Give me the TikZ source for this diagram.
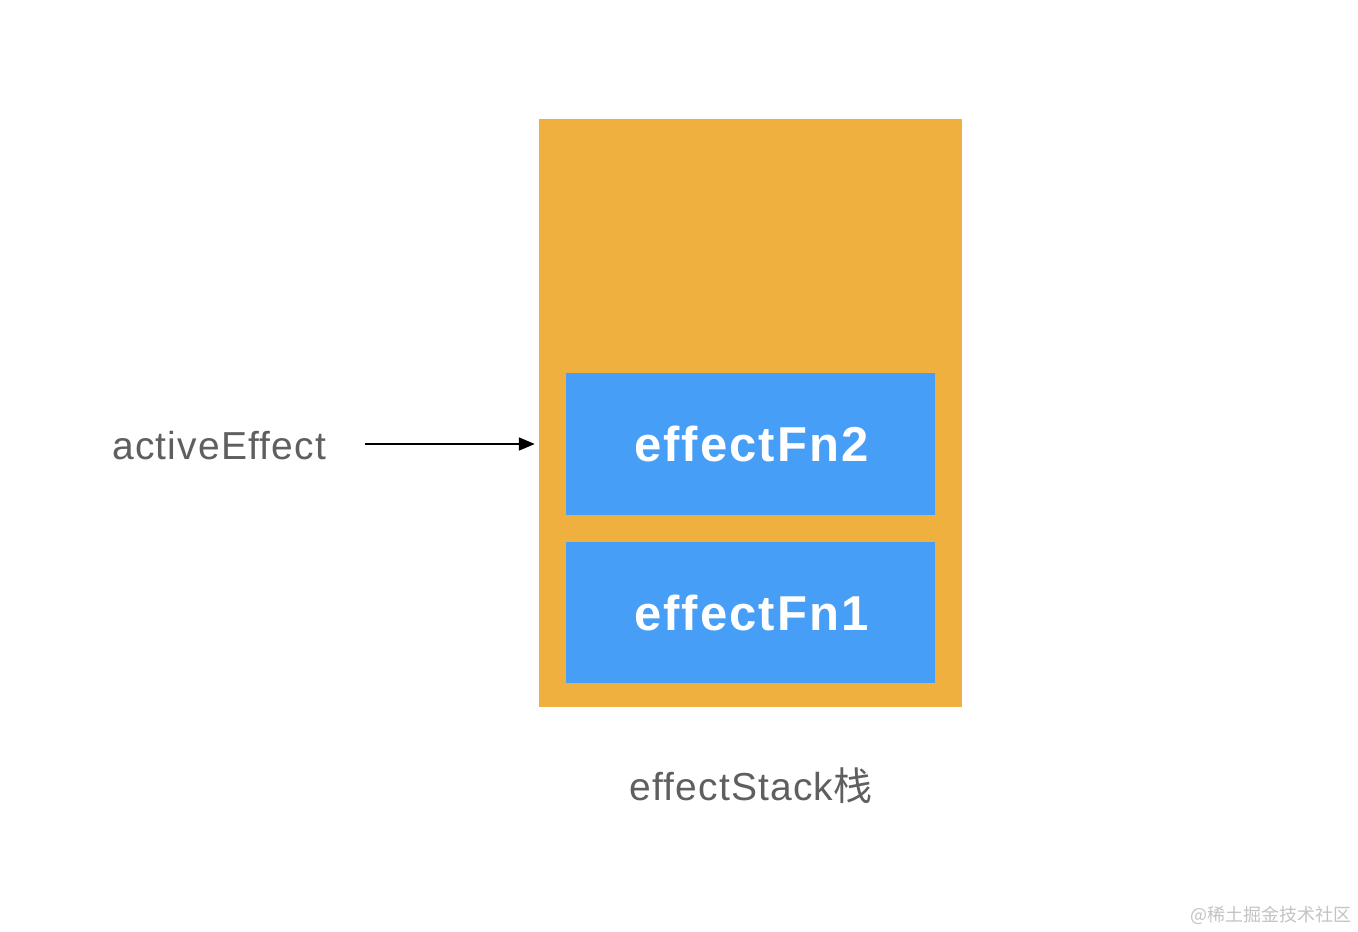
\documentclass[tikz,border=0pt]{standalone}
\usepackage{fontspec}
\setmainfont{Liberation Sans}
\newfontfamily\cjk{Noto Sans CJK SC}
\newfontfamily\lblfont[LetterSpace=3,Ligatures=NoCommon]{Liberation Sans}
\newfontfamily\fnfont[LetterSpace=4.2,Ligatures=NoCommon]{Liberation Sans}
\usetikzlibrary{arrows.meta}
\definecolor{stackorange}{RGB}{240,176,64}
\definecolor{fnblue}{RGB}{70,158,246}
\definecolor{labelgray}{RGB}{95,95,95}
\definecolor{markgray}{RGB}{195,195,195}
\tikzset{
  stackbox/.style={fill=stackorange, draw=none, inner sep=0pt, minimum width=423pt, minimum height=588pt},
  fnbox/.style={fill=fnblue, draw=none, inner sep=0pt, minimum width=369pt, minimum height=142pt, text=white, font=\fontsize{49}{53}\fnfont\bfseries},
  graylabel/.style={text=labelgray, inner sep=0pt, font=\fontsize{39}{43}\lblfont},
  arr/.style={-{Triangle[length=16pt,width=13pt]}, line width=2pt, black},
}
\begin{document}
\begin{tikzpicture}[x=1pt,y=-1pt]
\useasboundingbox (0,0) rectangle (1358,932);
\fill[white] (0,0) rectangle (1358,932);
\node[stackbox] (stack) at (750.5,413) {};
\node[fnbox] (fn2) at (750.5,444) {\hspace{2pt}effectFn2};
\node[fnbox, minimum height=141pt] (fn1) at (750.5,612.5) {\hspace{2pt}effectFn1};
\node[graylabel, anchor=base west] (act) at (112,459) {activeEffect};
\node[graylabel, anchor=base] (lbl) at (751,800) {effectStack{\cjk 栈}};
\coordinate (a0) at (365,444);
\draw[arr, shorten >=4pt] (a0) -- (stack.west |- a0);
\node[text=markgray, inner sep=0pt, anchor=base east, font=\fontsize{18}{20}\selectfont\cjk] (wm) at (1352,921) {@稀土掘金技术社区};
\end{tikzpicture}
\end{document}
